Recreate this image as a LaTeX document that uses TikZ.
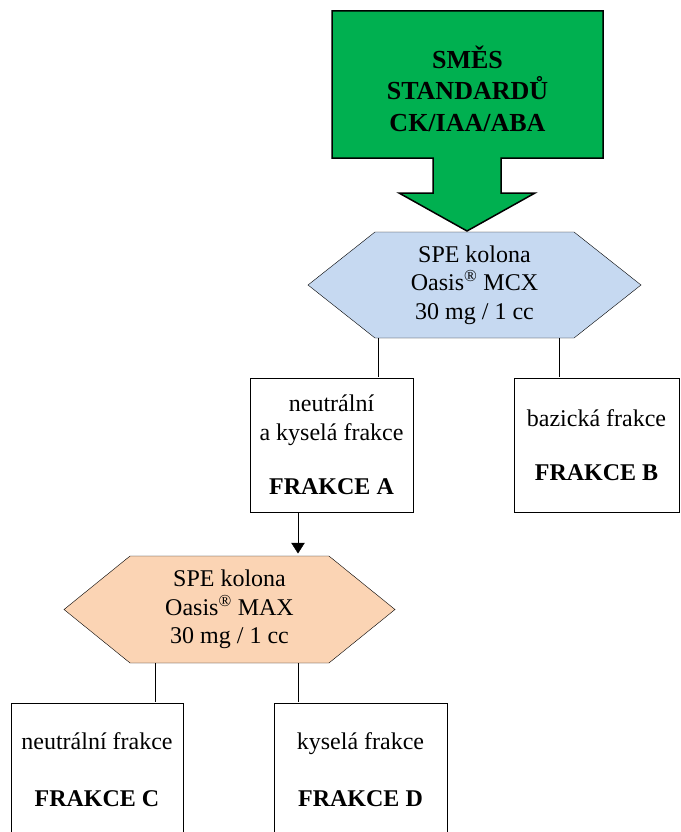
\documentclass[tikz,border=0pt]{standalone}
\usepackage{fontspec}
\setmainfont{Liberation Serif}
\usetikzlibrary{shapes.symbols,arrows.meta}
\definecolor{smesgreen}{RGB}{0,176,80}
\definecolor{mcxblue}{RGB}{198,217,241}
\definecolor{maxpeach}{RGB}{251,212,180}
\begin{document}
\begin{tikzpicture}[x=1pt,y=-1pt]
\tikzset{ >={Triangle[length=13pt,width=16pt]}, line width=2pt,
  frakce/.style={draw, rectangle, inner sep=0pt, align=center, minimum height=134pt, font=\fontsize{24}{29}\selectfont},
  kolona/.style={draw, signal, signal to=west and east, inner sep=0pt, align=center, font=\fontsize{24}{28.5}\selectfont},
}

\useasboundingbox (0,0) rectangle (680,832);
\clip (0,0) rectangle (680,832);

%%% Bloky

% smes standardu (zelena sipka)
\draw[fill=smesgreen, line width=1.5pt] (332,11) -- (603,11) -- (603,158) -- (501,158) -- (501,193) -- (535,193) -- (467,231) -- (399,193) -- (433,193) -- (433,158) -- (332,158) -- cycle;
\node[align=center, font=\fontsize{26}{31.5}\selectfont\bfseries] (SMES) at (467.5,88.5) {SMĚS\\STANDARDŮ\\CK/IAA/ABA};

% SPE kolona MCX
\node[kolona, fill=mcxblue, minimum width=333pt, minimum height=106pt, signal pointer angle=76.7] (MCX) at (474.5,285) {SPE kolona\\Oasis\textsuperscript{®} MCX\\30 mg / 1 cc};

% frakce A, B
\node[frakce, minimum width=163pt] (FA) at (331.5,445) {neutrální\\a kyselá frakce\\[25pt]\textbf{FRAKCE A}};
\node[frakce, minimum width=165pt] (FB) at (596.5,445) {bazická frakce\\[25pt]\textbf{FRAKCE B}};

% SPE kolona MAX
\node[kolona, fill=maxpeach, minimum width=331pt, minimum height=107pt, signal pointer angle=78] (MAX) at (229.5,609.5) {SPE kolona\\Oasis\textsuperscript{®} MAX\\30 mg / 1 cc};

% frakce C, D
\node[frakce, minimum width=172pt] (FC) at (97,770) {neutrální frakce\\[28pt]\textbf{FRAKCE C}};
\node[frakce, minimum width=173pt] (FD) at (360.5,770) {kyselá frakce\\[28pt]\textbf{FRAKCE D}};

%%% Linky

% MCX -> A, B
\coordinate (MCXl) at (378,338);
\coordinate (MCXr) at (559,338);
\draw (MCXl) -- (MCXl |- FA.north);
\draw (MCXr) -- (MCXr |- FB.north);

% A -> MAX
\coordinate (FAout) at (298,512);
\draw [->] (FAout) -- (FAout |- MAX.north);

% MAX -> C, D
\coordinate (MAXl) at (155,663);
\coordinate (MAXr) at (298,663);
\draw (MAXl) -- (MAXl |- FC.north);
\draw (MAXr) -- (MAXr |- FD.north);

\end{tikzpicture}
\end{document}
